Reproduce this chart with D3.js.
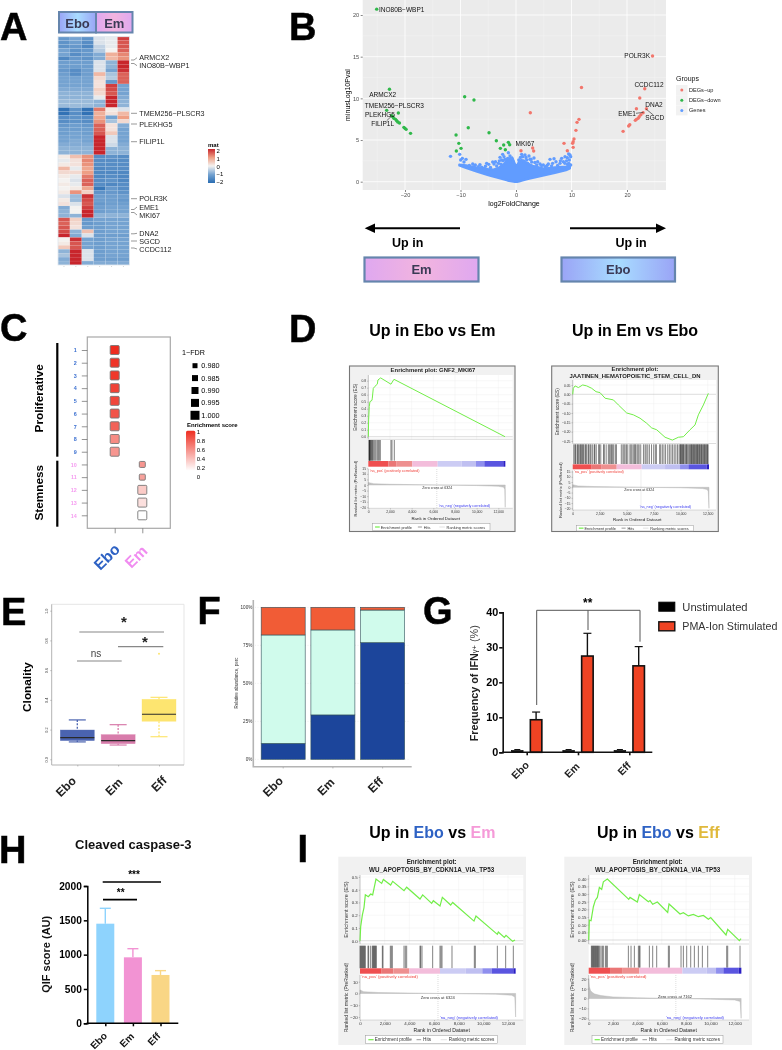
<!DOCTYPE html>
<html><head><meta charset="utf-8">
<script src="https://cdn.jsdelivr.net/npm/d3@7"></script>
<style>
html,body{margin:0;padding:0;background:#fff}
svg{display:block;filter:blur(0.45px)}
text{font-family:"Liberation Sans",Arial,sans-serif}
</style></head><body>
<script>
// ---------- DATA ----------
const heatColumns=['Ebo1','Ebo2','Ebo3','Em1','Em2','Em3'];
const heatValues=[
[-1.2,-1,-1.3,-.2,-.1,1.8],[-1.3,-1.1,-1.4,-.2,-.1,1.6],[-1.3,-1.2,-1.5,-.4,-.1,1.6],[-1,-1.3,-1.2,-.5,0,1.5],
[-1,-1.4,-1.2,-.9,.8,1.2],[-1.5,-1.2,-1.3,-.9,.7,1.1],[-1.1,-1.1,-1.1,-.2,-.8,2],[-1.1,-1.1,-1.1,-.2,-.8,2],
[-1.2,-1.4,-1.1,-.2,-1,1.9],[-1.1,-1.4,-1.1,.7,-.6,1.5],[-1,-1,-1,.3,-.5,1.5],[-1,-1,-1,.2,-1.2,1.5],
[-1,-1,-1,.2,1.8,-1],[-.9,-.9,-.9,.4,1.7,-1],[-.8,-.8,-.8,.3,1.6,-1],[-.8,-.8,-.8,-.1,2,-.9],[-.7,-.7,-.7,-.8,2,-.8],[-.7,-.7,-.7,-.8,2,-.8],
[-1.9,-1.3,-1.9,1.3,.1,-.2],[-1.9,-1.4,-1.9,.8,.2,.7],[-1.4,-1.3,-1.4,.9,-1,1],[-1.4,-1.3,-1.4,1.1,-.6,.3],
[-1.2,-1.1,-1.2,1.5,.2,-.9],[-1.1,-1.1,-1.1,1.5,.2,-1],[-1.1,-1,-1.1,1.6,.5,-1],[-1,-1,-1,2,-.2,-1],
[-1,-.9,-1,2,-.2,-1],[-.9,-.9,-.9,2,-.3,-.9],[-.8,-.8,-.8,2,-.8,-.8],[-.8,-.8,-.8,2,-.8,-.8],
[.1,.6,1.1,-1.4,-1.3,-1.4],[-.1,.2,1.2,-1.4,-1.4,-1.4],[.1,.2,1.1,-1.4,-1.4,-1.4],[.7,-.1,.9,-1.5,-1.4,-1.4],
[.3,.3,1,-1.5,-1.5,-1.5],[.1,-.1,1.3,-1.5,-1.4,-1.5],[0,-.2,1.5,-1.4,-1.3,-1.5],[.1,-.1,1.5,-1.4,-1.5,-1.4],[0,.1,.9,-1.8,-1.2,-1.4],[.1,1.1,.4,-1.3,-1.2,-1.3],
[-.2,-.7,1.9,-1.1,-1.1,-1.1],[.1,-.7,1.7,-1.1,-1.1,-1.2],[.2,-.2,1.6,-1.2,-1.1,-1.1],[-.9,0,1.8,-1.1,-1,-1],[-.8,0,2,-1.1,-1,-1],[-.8,-.8,2,-.8,-.8,-.8],
[1.6,.4,-1.2,-1,-1,-1],[1.5,.3,-1.2,-1.1,-1,-1],[1.6,.2,-1.1,-1.1,-1,-1],[1.7,-.8,.6,-1.1,-1,-1],[2,-.9,-.2,-1.1,-1.1,-1.1],
[0,1.9,-1,-1.1,-1,-1],[.1,1.6,-1,-1.1,-1,-1],[.5,1.6,-1,-1.1,-1,-1],[-.8,2,-.2,-1.1,-1,-1],[-.6,2,-.2,-1.1,-1,-1],[-.9,2,-.2,-1.1,-1.1,-1.1],[-.8,2,-.9,-.9,-.9,-.9]];
const heatGeneLabels=['ARMCX2','INO80B−WBP1','TMEM256−PLSCR3','PLEKHG5','FILIP1L','POLR3K','EME1','MKI67','DNA2','SGCD','CCDC112'];
const heatLegendTicks=[2,1,0,-1,-2];

const volcanoDown=[[-25.1,20.7],[-22.8,11.1],[-23.3,8.56],[-21.2,8.24],[-9.25,10.2],[-7.57,9.8],[-8.6,6.48],[-10.8,5.6],[-4.86,5.88],[-3.54,4.92],[-10.3,4.6],[-9.9,4],[-10.75,3.68],[-1.38,4.72],[-1.14,4.44],[-2.22,4.4],[-2.82,4],[-1.92,3.84],[-22.4,7.92],[-22.2,7.8],[-22,7.6],[-21.7,7.48],[-21.5,7.32],[-21.3,7.16],[-21,7.04],[-20.2,6.52],[-20,6.4],[-19.8,6.28],[-19,5.8]];
const volcanoUp=[[24.6,15.08],[11.8,11.3],[23.2,11.16],[22.3,10.04],[2.58,8.28],[11.35,7.48],[11,7.12],[10.8,6.16],[21.7,8.76],[23.5,8.76],[22.9,8.28],[22.5,8.04],[22.2,7.8],[22,7.6],[21.7,7.48],[21.5,7.36],[20.5,6.84],[20.3,6.68],[19.3,6.04],[10.45,5.12],[10.3,4.8],[10.2,4.6],[10.3,4.12],[8.65,4.6],[9.25,3.72],[3,4.04],[3.18,3.68],[.9,3.72]];
const volcanoGenes=[[-11.8,3.04],[-10.15,3.28],[-9.67,2.8],[-9,2.68],[-9.97,2.6],[-9.37,2.36],[-7.8,2.12],[-7.33,2],[-7.57,1.8],[-6.79,1.8],[-5.77,1.6],[-5.29,2.2],[-4.92,2.08],[-4.2,2.36],[-3.96,2.12],[-3.48,1.88],[-2.88,2.92],[-2.58,2.6],[-2.4,3.28],[-2.16,3],[-1.98,2.68],[-1.68,2.4],[-3.18,2.2],[-1.38,3.48],[-1.08,3.08],[-.78,2.8],[1.02,3.28],[1.2,3],[1.62,3.2],[1.92,2.6],[2.34,3.08],[2.52,2.68],[2.82,2.36],[3.24,2.84],[3.72,2],[4.32,2.12],[4.92,2],[5.83,2.12],[6.13,2.68],[6.85,2.76],[7.21,2.4],[7.93,2.2],[8.23,2.8],[8.83,3],[9.25,2.88],[9.49,3.32],[9.73,3.2],[9.85,3],[9.61,2.6],[9.85,2],[8.53,2.4],
[-8.4,1.95],[-6.2,1.75],[-6.5,2.05],[-5.5,1.85],[-4.6,1.7],[-3.7,2.4],[-3,2.5],[-2.7,2.1],[-2.3,2.5],[-1.9,2.2],[-1.5,2.8],[-1.2,2.5],[-.9,2.4],[-.5,2.4],[.5,2.6],[.8,2.9],[1.4,2.5],[1.8,2.9],[2.1,2.2],[2.7,2.7],[3.4,2.3],[3.9,2.4],[4.6,1.95],[5.3,1.8],[5.6,1.95],[6.4,1.9],[6.6,2.2],[7.5,1.95],[8,2.5],[8.8,2.2],[9.1,2.5],[9.3,2.1],[9.5,2.2]];
const genesEnvX=[-10.2,-9,-7,-6,-5,-4,-3,-2,-1.5,-.7,-.2,.2,.6,1,2,3,5,7,9,9.7];
const genesEnvLow=[1.95,1.65,1.2,1.0,.8,.6,.42,.25,.15,.05,0,0,.05,.12,.3,.45,.75,1.05,1.4,1.6];
const genesEnvHigh=[2.05,1.95,1.65,1.6,1.5,1.45,1.7,2.2,2.7,2.9,2.1,1.9,2.5,2.6,2.2,1.9,1.55,1.7,1.8,1.9];
const volcanoXTicks=[-20,-10,0,10,20];
const volcanoYTicks=[0,5,10,15,20];
const volcanoGroups=['DEGs−up','DEGs−down','Genes'];

const pathwayRows=[1,2,3,4,5,6,7,8,9,10,11,12,13,14];
const pathwayGroup=['Ebo','Ebo','Ebo','Ebo','Ebo','Ebo','Ebo','Ebo','Ebo','Em','Em','Em','Em','Em'];
const pathwayScore=[1,.97,.95,.9,.88,.82,.75,.55,.5,.5,.45,.25,.15,0];
const pathwayFdr=[1,1,1,1,1,1,1,1,1,.985,.985,1,1,1];
const fdrLegend=[.98,.985,.99,.995,1];
const scoreLegend=[1,.8,.6,.4,.2,0];

const gseaMki67Es=[[0,0],[30,.24],[90,.43],[150,.5],[340,.52],[370,.55],[460,.69],[615,.72],[830,.75],[890,.81],[1140,.84],[2090,.75],[2370,.82],[12620,0]];
const gseaMki67Hits=[60,90,120,150,185,245,310,370,430,520,615,710,830,925,1015,1110,2090,2185,2400];
const gseaMki67Seg=[0,1846,2615,4060,6400,8615,9938,10708,12460,12650];
const gseaMki67Rank=[[0,2.2],[500,1.2],[2000,.7],[6324,0],[10000,-.5],[12000,-1.2],[12500,-2],[12600,-4],[12640,-20]];

const gseaStemEs=[[0,0],[60,.032],[216,.045],[525,.036],[926,.05],[1296,.045],[1760,.032],[2160,.014],[2530,.009],[3000,-.021],[3765,-.03],[4230,-.057],[5000,-.1],[5617,-.11],[6235,-.128],[6850,-.155],[7315,-.18],[7780,-.19],[8550,-.23],[9230,-.245],[9784,-.23],[10250,-.227],[10864,-.19],[11327,-.164],[11636,-.11],[12100,-.057],[12560,.005]];
const gseaStemHits=[100,200,260,400,470,520,650,720,800,880,950,1020,1150,1210,1300,1440,1500,1620,1700,1850,2000,2050,2180,2400,2480,2600,2850,2930,3100,3300,3400,3520,3600,3700,3800,3950,4050,4500,4650,4750,4850,4980,5100,5300,5400,5500,5650,5750,5800,5950,6050,6150,6300,6550,6700,6800,6950,7100,7300,7500,7650,7750,8050,8150,8300,8450,8600,8800,8950,9100,9250,9400,9550,9700,9850,9950,10000,10050,10120,10180,10250,10300,10400,10480,10550,10600,10700,10800,10880,10950,11000,11080,11150,11200,11280,11350,11420,11480,11550,11600,11680,11730,11800,11880,11920,12000,12080,12150,12200,12280,12350,12420,12480,12540];
const gseaStemSeg=[0,1760,2685,4074,6388,8550,9938,10710,12407,12620];
const gseaStemRank=[[0,2.5],[500,1.3],[2000,.7],[6324,0],[10000,-.5],[12000,-1.2],[12450,-2],[12550,-4],[12620,-20]];

const gseaApo1Es=[[0,0],[54,.11],[190,.2],[324,.26],[432,.36],[675,.345],[865,.366],[1027,.36],[1297,.484],[1757,.45],[1892,.48],[2486,.437],[2650,.466],[3568,.393],[3784,.42],[4865,.327],[5080,.36],[5811,.293],[5946,.314],[6486,.272],[6676,.34],[7351,.28],[7514,.3],[9243,.154],[9405,.194],[11135,.05],[11216,.068],[11703,.026],[11838,.042],[12378,-.005],[12568,.005]];
const gseaApo1Hits=[0,54,108,162,216,270,324,378,432,648,703,865,1000,1054,1108,1162,1216,1270,1324,1811,1865,2459,2541,2622,3568,3676,3784,4865,4919,5027,5892,6486,6568,6649,7459,9270,9351,11135,11811,12432];
const gseaApo1Seg=[0,1757,2703,4000,6486,8568,9919,10676,12432,12620];
const gseaApo1Rank=[[0,3],[300,1.5],[1500,.8],[6324,0],[11000,-.7],[12300,-1.5],[12550,-3],[12620,-20]];

const gseaApo2Es=[[0,0],[55,.13],[192,.126],[384,.217],[548,.26],[712,.278],[877,.343],[1068,.33],[1205,.38],[1534,.398],[3123,.278],[3288,.265],[3397,.278],[4000,.248],[4164,.296],[4904,.25],[5041,.257],[5260,.233],[5644,.248],[6493,.18],[6603,.235],[7507,.17],[7781,.178],[8192,.157],[8603,.167],[9014,.152],[9425,.16],[9836,.135],[10027,.146],[11288,.033],[11425,.07],[12384,-.004],[12520,.009]];
const gseaApo2Hits=[219,274,329,384,438,493,548,603,658,712,767,822,904,1014,1123,1205,1370,1452,1534,3260,3479,3753,4082,4164,4219,4986,5260,5589,6548,6630,7589,7781,8055,8384,8685,9014,9342,9781,11342,11425,12438];
const gseaApo2Seg=[0,1753,2795,4164,7699,9699,10466,11068,12329,12548];
const gseaApo2Rank=[[0,20],[50,12],[150,8],[300,6],[500,4.5],[1000,3],[2000,1.6],[4000,.8],[7162,0],[10000,-.7],[12000,-1.5],[12450,-3],[12530,-20]];

const cloneGroups=['Ebo','Em','Eff'];
const cloneLow=[.117,.096,.152];
const cloneQ1=[.126,.105,.256];
const cloneMedian=[.146,.126,.303];
const cloneQ3=[.197,.166,.404];
const cloneHigh=[.265,.233,.417];
const cloneOutliers=[[2,.711]];
const cloneTicks=[0,.2,.4,.6,.8,1];

const abundanceGroups=['Ebo','Em','Eff'];
const abundanceBlue=[10.5,29.2,76.8];
const abundanceMint=[71.3,55.9,21.4];
const abundanceOrange=[18.2,14.9,1.8];

const ifnGroups=['Ebo','Em','Eff'];
const ifnUnstim=[.5,.5,.5];
const ifnUnstimErr=[.3,.3,.3];
const ifnStim=[9.3,27.5,24.7];
const ifnStimErr=[2.2,6.5,5.5];
const ifnTicks=[0,10,20,30,40];

const caspGroups=['Ebo','Em','Eff'];
const caspMean=[1451,961,704];
const caspErr=[224,126,63];
const caspTicks=[0,500,1000,1500,2000];

// ---------- HELPERS ----------
const svg=d3.select('body').append('svg').attr('width',782).attr('height',1050).attr('viewBox','0 0 782 1050');
const defs=svg.append('defs');
function T(g,x,y,s,o={}){
  const t=g.append('text').attr('x',x).attr('y',y).text(s)
    .attr('font-size',o.size||8).attr('fill',o.fill||'#000');
  if(o.weight)t.attr('font-weight',o.weight);
  if(o.anchor)t.attr('text-anchor',o.anchor);
  if(o.mid)t.attr('dominant-baseline','central');
  if(o.rot!==undefined)t.attr('transform',`rotate(${o.rot} ${x} ${y})`);
  return t;
}
function grad(id,stops,x2=1,y2=0){
  const g=defs.append('linearGradient').attr('id',id).attr('x1',0).attr('y1',0).attr('x2',x2).attr('y2',y2);
  stops.forEach(([o,c])=>g.append('stop').attr('offset',o).attr('stop-color',c));
}
function styleAxis(g,o={}){
  g.selectAll('path').attr('stroke',o.line||'#000').attr('stroke-width',o.sw||1);
  g.selectAll('line').attr('stroke',o.line||'#000').attr('stroke-width',o.tw||o.sw||1);
  g.selectAll('text').attr('font-size',o.size||8).attr('fill',o.fill||'#000').attr('font-family','"Liberation Sans",Arial,sans-serif');
  if(o.weight)g.selectAll('text').attr('font-weight',o.weight);
  if(o.noDomain)g.select('.domain').remove();
  if(o.noTicks)g.selectAll('.tick line').remove();
}
const letters=[['A',0,40],['B',289,40],['C',0,341],['D',289,342],['E',1,625],['F',197.5,624],['G',423,624],['H',-1,863],['I',297.5,862]];
letters.forEach(([l,x,y])=>T(svg,x,y,l,{size:38,weight:'bold'}).attr('stroke','#000').attr('stroke-width',.5));
grad('gEbo',[[0,'#9aa4f6'],[.5,'#a8dcff'],[1,'#9aa4f6']]);
grad('gEm',[[0,'#dfa8f0'],[.5,'#f2b4df'],[1,'#dfa8f0']]);
function tagBox(g,x0,x1,y0,y1,s,fs,by,sw){
  g.append('rect').attr('x',x0).attr('y',y0).attr('width',x1-x0).attr('height',y1-y0)
   .attr('fill',s==='Ebo'?'url(#gEbo)':'url(#gEm)').attr('stroke','#6585ad').attr('stroke-width',sw);
  T(g,(x0+x1)/2,by,s,{size:fs,weight:'bold',anchor:'middle',fill:'#3a3a55'});
}

// ---------- A : heat map ----------
{
  const g=svg.append('g');
  const hColors=['#2a6db2','#75a3d1','#f4f2f0','#ee9f85','#c8252c'];
  const color=d3.scaleLinear().domain([-2,-1,0,1,2]).range(hColors);
  const xb=d3.scaleBand().domain(heatColumns).range([58,129.4]);
  const yb=d3.scaleBand().domain(d3.range(heatValues.length)).range([36.7,265]);
  heatValues.forEach((row,r)=>row.forEach((v,c)=>{
    g.append('rect').attr('x',xb(heatColumns[c])).attr('y',yb(r)).attr('width',xb.bandwidth()).attr('height',yb.bandwidth())
     .attr('fill',color(v)).attr('stroke','#fff').attr('stroke-opacity',.15).attr('stroke-width',.4);
  }));
  g.append('rect').attr('x',58).attr('y',36.7).attr('width',71.4).attr('height',228.3).attr('fill','none').attr('stroke','#dfe6ee').attr('stroke-width',.8);
  heatColumns.forEach(c=>g.append('line').attr('x1',xb(c)+xb.bandwidth()/2).attr('x2',xb(c)+xb.bandwidth()/2).attr('y1',266).attr('y2',267).attr('stroke','#bbb').attr('stroke-width',.6));
  tagBox(g,59,96,12,32.5,'Ebo',13,28,2);
  tagBox(g,96,132.5,12,32.5,'Em',13,28,2);
  const labelY=[57.7,65.7,113.3,124,141.7,198.7,207,215,233.3,241,249];
  const startY=[60,63.5,113.3,124,141.7,198.7,209.5,212.5,233.8,241,248];
  heatGeneLabels.forEach((s,i)=>{
    T(g,139.3,labelY[i],s,{size:7.2,mid:true,fill:'#222'});
    g.append('polyline').attr('points',`131,${startY[i]} 134,${startY[i]} 137,${labelY[i]}`).attr('fill','none').attr('stroke','#555').attr('stroke-width',.6);
  });
  T(g,208,147,'mat',{size:6,weight:'bold'});
  grad('gMat',[[0,hColors[4]],[.25,hColors[3]],[.5,hColors[2]],[.75,hColors[1]],[1,hColors[0]]],0,1);
  g.append('rect').attr('x',208).attr('y',149).attr('width',7).attr('height',34).attr('fill','url(#gMat)');
  const ly=d3.scaleLinear().domain([2,-2]).range([151,182]);
  heatLegendTicks.forEach(v=>T(g,216.5,ly(v),String(v).replace('-','−'),{size:6,mid:true}));
}

// ---------- B : volcano ----------
{
  const g=svg.append('g');
  const x=d3.scaleLinear().domain([-20,20]).range([405,627]);
  const y=d3.scaleLinear().domain([0,20]).range([181.7,15]);
  const L=362.7,R=666,Tp=0,B=190;
  g.append('rect').attr('x',L).attr('y',Tp).attr('width',R-L).attr('height',B-Tp).attr('fill','#ebebeb');
  [-25,-15,-5,5,15,25].forEach(v=>g.append('line').attr('x1',x(v)).attr('x2',x(v)).attr('y1',Tp).attr('y2',B).attr('stroke','#f6f6f6').attr('stroke-width',.4));
  [2.5,7.5,12.5,17.5].forEach(v=>g.append('line').attr('x1',L).attr('x2',R).attr('y1',y(v)).attr('y2',y(v)).attr('stroke','#f6f6f6').attr('stroke-width',.4));
  volcanoXTicks.forEach(v=>g.append('line').attr('x1',x(v)).attr('x2',x(v)).attr('y1',Tp).attr('y2',B).attr('stroke','#fff').attr('stroke-width',.8));
  volcanoYTicks.forEach(v=>g.append('line').attr('x1',L).attr('x2',R).attr('y1',y(v)).attr('y2',y(v)).attr('stroke','#fff').attr('stroke-width',.8));
  const ax=g.append('g').attr('transform',`translate(0,${B})`).call(d3.axisBottom(x).tickValues(volcanoXTicks).tickSize(2).tickPadding(1.5).tickFormat(d=>String(d).replace('-','−')));
  styleAxis(ax,{size:5.6,fill:'#4d4d4d',line:'#333',sw:.6});ax.select('.domain').remove();
  const ay=g.append('g').attr('transform',`translate(${L},0)`).call(d3.axisLeft(y).tickValues(volcanoYTicks).tickSize(2).tickPadding(1.5));
  styleAxis(ay,{size:5.6,fill:'#4d4d4d',line:'#333',sw:.6});ay.select('.domain').remove();
  T(g,514,206,'log2FoldChange',{size:7,anchor:'middle'});
  T(g,350,95,'minusLog10Pval',{size:7,anchor:'middle',rot:-90});
  const env=genesEnvX.map((v,i)=>[v,genesEnvLow[i],genesEnvHigh[i]]);
  g.append('path').attr('d',d3.area().x(d=>x(d[0])).y0(d=>y(d[1])).y1(d=>y(d[2]))(env)).attr('fill','#619cff').attr('stroke','#619cff').attr('stroke-width',2.4).attr('stroke-linejoin','round');
  const dots=(arr,c)=>arr.forEach(d=>g.append('circle').attr('cx',x(d[0])).attr('cy',y(d[1])).attr('r',1.7).attr('fill',c));
  dots(volcanoGenes,'#619cff');dots(volcanoDown,'#2fb84a');dots(volcanoUp,'#f2766c');
  const ln=(a,b,c,d,col='#222')=>g.append('line').attr('x1',a).attr('y1',b).attr('x2',c).attr('y2',d).attr('stroke',col).attr('stroke-width',.6);
  ln(386.7,120.7,391.7,116);ln(636,113.3,643.5,112.3);ln(646,109,653.3,115);
  [['INO80B−WBP1',379,9,'start'],['POLR3K',650,55.7,'end'],['CCDC112',649,84.7,'middle'],['DNA2',654,104,'middle'],['EME1',627,113.3,'middle'],['SGCD',654.7,117,'middle'],['ARMCX2',382.7,94,'middle'],['TMEM256−PLSCR3',394.3,105.7,'middle'],['PLEKHG5',380,114.7,'middle'],['FILIP1L',382.7,123.7,'middle'],['MKI67',525,143.3,'middle']]
   .forEach(([s,a,b,an])=>T(g,a,b,s,{size:6.5,anchor:an,mid:true,fill:'#111'}));
  T(g,676,81,'Groups',{size:7,fill:'#111'});
  const keyC=['#f2766c','#2fb84a','#619cff'];
  volcanoGroups.forEach((s,i)=>{
    const ky=90+i*10.2;
    g.append('rect').attr('x',676).attr('y',ky-5).attr('width',11.5).attr('height',10).attr('fill','#f2f2f2');
    g.append('circle').attr('cx',681.8).attr('cy',ky).attr('r',1.5).attr('fill',keyC[i]);
    T(g,689,ky,s,{size:5.6,mid:true,fill:'#222'});
  });
  // arrows and tags
  g.append('line').attr('x1',460).attr('x2',372).attr('y1',228.3).attr('y2',228.3).attr('stroke','#000').attr('stroke-width',2);
  g.append('path').attr('d','M364.7,228.3L375,223.6L375,233Z');
  g.append('line').attr('x1',570).attr('x2',658).attr('y1',228.3).attr('y2',228.3).attr('stroke','#000').attr('stroke-width',2);
  g.append('path').attr('d','M666,228.3L656,223.6L656,233Z');
  T(g,407.7,247,'Up in',{size:12.5,weight:'bold',anchor:'middle'});
  T(g,631,247,'Up in',{size:12.5,weight:'bold',anchor:'middle'});
  tagBox(g,364.5,478.5,257.5,281.5,'Em',13,273.5,2.2);
  tagBox(g,561.5,675,257.5,281.5,'Ebo',13,273.5,2.2);
}

// ---------- C : dot matrix ----------
{
  const g=svg.append('g');
  const y=d3.scalePoint().domain(pathwayRows).range([350,515.3]);
  const x=d3.scalePoint().domain(['Ebo','Em']).range([114.7,142.3]);
  const fill=d3.scaleLinear().domain([0,1]).range(['#ffffff','#ee2d20']);
  const size=d3.scaleLinear().domain([.98,1]).range([5,9]);
  g.append('rect').attr('x',87.3).attr('y',337).attr('width',83).attr('height',191.3).attr('fill','none').attr('stroke','#a8a8a8').attr('stroke-width',1.2);
  const ay=g.append('g').attr('transform','translate(87.3,0)').call(d3.axisLeft(y).tickSize(5.5).tickPadding(5));
  styleAxis(ay,{size:5.4,weight:'bold',line:'#666',sw:.7,fill:'#3a6fd0'});ay.select('.domain').remove();
  ay.selectAll('text').attr('fill',d=>d<=9?'#3a6fd0':'#f59af0');
  const ax=g.append('g').attr('transform','translate(0,528.3)').call(d3.axisBottom(x).tickSize(5).tickFormat(''));
  styleAxis(ax,{line:'#666',sw:.7});ax.select('.domain').remove();
  pathwayRows.forEach((r,i)=>{
    const s=size(pathwayFdr[i]);
    g.append('rect').attr('x',x(pathwayGroup[i])-s/2).attr('y',y(r)-s/2).attr('width',s).attr('height',s).attr('rx',1)
     .attr('fill',fill(pathwayScore[i])).attr('stroke','#777').attr('stroke-width',.9);
  });
  g.append('rect').attr('x',56.2).attr('y',343).attr('width',2.2).attr('height',113.7);
  g.append('rect').attr('x',56.2).attr('y',460.7).attr('width',2.2).attr('height',66);
  T(g,39,398.3,'Proliferative',{size:11.8,weight:'bold',anchor:'middle',mid:true,rot:-90});
  T(g,39,492.7,'Stemness',{size:11.8,weight:'bold',anchor:'middle',mid:true,rot:-90});
  T(g,106.7,556.7,'Ebo',{size:15.5,weight:'bold',anchor:'middle',mid:true,rot:-45,fill:'#2e62c4'});
  T(g,136,556.7,'Em',{size:15.5,weight:'bold',anchor:'middle',mid:true,rot:-45,fill:'#f08cf0'});
  T(g,182,352.7,'1−FDR',{size:7.2,mid:true});
  fdrLegend.forEach((v,i)=>{
    const yy=365.7+i*12.4,s=size(v);
    g.append('rect').attr('x',195-s/2).attr('y',yy-s/2).attr('width',s).attr('height',s);
    T(g,201.3,yy,d3.format('.3f')(v),{size:7.3,mid:true});
  });
  T(g,187,427,'Enrichment score',{size:6,weight:'bold'});
  grad('gScore',[[0,'#ee2d20'],[1,'#ffffff']],0,1);
  g.append('rect').attr('x',186).attr('y',430.7).attr('width',9.3).attr('height',40).attr('rx',1.5).attr('fill','url(#gScore)');
  const ly=d3.scaleLinear().domain([1,0]).range([431.7,476.7]);
  scoreLegend.forEach(v=>T(g,196.7,ly(v),String(v),{size:6,mid:true}));
}

// ---------- GSEA plots ----------
const segColors=['#ef4f50','#ea7676','#ee9090','#f3bddb','#ccccf4','#bfbff1','#8f8fee','#5a55e0','#2a1fc4'];
function gsea(c){
  const g=svg.append('g');
  g.append('rect').attr('x',c.box[0]).attr('y',c.box[1]).attr('width',c.box[2]-c.box[0]).attr('height',c.box[3]-c.box[1])
    .attr('fill','#f1f1f1').attr('stroke',c.border||'none').attr('stroke-width',1.1);
  const x=d3.scaleLinear().domain(c.xDom).range(c.xRng);
  const L=c.xRng[0],R=c.right,[eT,eB]=c.esBand,[hT,hB]=c.hitBand,[bT,bB]=c.barBand,[rT,rB]=c.rankBand;
  g.append('rect').attr('x',L).attr('y',eT).attr('width',R-L).attr('height',rB-eT).attr('fill','#fff');
  c.title.forEach((s,i)=>T(g,c.titleX,c.titleY[i],s,{size:c.titleSize,weight:'bold',anchor:'middle',fill:'#222',mid:true}));
  const fs=c.tickSize;
  const es=d3.scaleLinear().domain(c.esDom).range(c.esRng);
  c.xTicks.forEach(v=>g.append('line').attr('x1',x(v)).attr('x2',x(v)).attr('y1',eT).attr('y2',eB).attr('stroke','#eee').attr('stroke-width',.4));
  c.esTicks.forEach(v=>g.append('line').attr('x1',L).attr('x2',R).attr('y1',es(v)).attr('y2',es(v)).attr('stroke',v===0?'#bbb':'#eee').attr('stroke-width',v===0?.5:.4));
  const ae=g.append('g').attr('transform',`translate(${L},0)`).call(d3.axisLeft(es).tickValues(c.esTicks).tickSize(1.2).tickPadding(1).tickFormat(d3.format(c.esFmt)));
  styleAxis(ae,{size:fs,fill:'#333',line:'#777',sw:.4});ae.select('.domain').attr('d',`M0,${eT}V${eB}`);
  T(g,c.yTitleX,(eT+eB)/2,'Enrichment score (ES)',{size:c.esTitle,anchor:'middle',fill:'#333',rot:-90,mid:true});
  g.append('path').datum(c.es).attr('d',d3.line().x(d=>x(d[0])).y(d=>es(d[1]))).attr('fill','none').attr('stroke','#72ee48').attr('stroke-width',c.lineW||1.2);
  g.append('line').attr('x1',L).attr('x2',R).attr('y1',eB).attr('y2',eB).attr('stroke','#aaa').attr('stroke-width',.4);
  c.hits.forEach(v=>g.append('line').attr('x1',x(v)).attr('x2',x(v)).attr('y1',hT).attr('y2',hB).attr('stroke','#000').attr('stroke-opacity',.55).attr('stroke-width',.9));
  c.seg.slice(0,-1).forEach((v,i)=>g.append('rect').attr('x',x(v)).attr('y',bT).attr('width',x(c.seg[i+1])-x(v)).attr('height',bB-bT).attr('fill',segColors[i]));
  const rk=d3.scaleLinear().domain(c.rankDom).range(c.rankRng);
  g.append('line').attr('x1',x(c.zero)).attr('x2',x(c.zero)).attr('y1',rT).attr('y2',rB).attr('stroke','#aaa').attr('stroke-width',.4).attr('stroke-dasharray','1 1');
  g.append('line').attr('x1',L).attr('x2',R).attr('y1',rB).attr('y2',rB).attr('stroke','#aaa').attr('stroke-width',.4);
  g.append('path').datum(c.rank).attr('d',d3.area().x(d=>x(d[0])).y0(rk(0)).y1(d=>rk(d[1]))).attr('fill','#c4c4c4').attr('stroke','#b0b0b0').attr('stroke-width',.4);
  const ar=g.append('g').attr('transform',`translate(${L},0)`).call(d3.axisLeft(rk).tickValues(c.rankTicks).tickSize(1.2).tickPadding(1).tickFormat(d=>String(d).replace('-','−')));
  styleAxis(ar,{size:fs,fill:'#333',line:'#777',sw:.4});ar.select('.domain').attr('d',`M0,${rT}V${rB}`);
  T(g,c.yTitleX+(c.rankTitleDx||0),(rT+rB)/2,'Ranked list metric (PreRanked)',{size:c.rankTitle,anchor:'middle',fill:'#333',rot:-90,mid:true});
  const ax=g.append('g').attr('transform',`translate(0,${rB})`).call(d3.axisBottom(x).tickValues(c.xTicks).tickSize(1.2).tickPadding(1).tickFormat(d3.format(',')));
  styleAxis(ax,{size:fs,fill:'#333',line:'#777',sw:.4});ax.select('.domain').remove();
  T(g,c.xTitle[0],c.xTitle[1],'Rank in Ordered Dataset',{size:c.xTitleSize,anchor:'middle',fill:'#222',mid:true});
  T(g,x(0)+1.5,rT+1.8,"'na_pos' (positively correlated)",{size:c.note,fill:'#f0403a',mid:true});
  T(g,c.negRight,rB-2.6,"'na_neg' (negatively correlated)",{size:c.note,fill:'#3a3af0',anchor:'end',mid:true});
  T(g,c.zeroLabel[0],c.zeroLabel[1],'Zero cross at '+c.zero,{size:c.note-.1,fill:'#333',anchor:'middle',mid:true});
  const [lx0,ly0,lx1,ly1]=c.legend;
  g.append('rect').attr('x',lx0).attr('y',ly0).attr('width',lx1-lx0).attr('height',ly1-ly0).attr('fill','#fff').attr('stroke','#999').attr('stroke-width',.5);
  const w=lx1-lx0,m=(ly0+ly1)/2;
  g.append('line').attr('x1',lx0+w*.02).attr('x2',lx0+w*.06).attr('y1',m).attr('y2',m).attr('stroke','#72ee48').attr('stroke-width',1.2);
  T(g,lx0+w*.068,m,'Enrichment profile',{size:c.legSize,mid:true,fill:'#333'});
  g.append('line').attr('x1',lx0+w*.385).attr('x2',lx0+w*.42).attr('y1',m).attr('y2',m).attr('stroke','#555').attr('stroke-width',.6);
  T(g,lx0+w*.435,m,'Hits',{size:c.legSize,mid:true,fill:'#333'});
  g.append('line').attr('x1',lx0+w*.568).attr('x2',lx0+w*.615).attr('y1',m).attr('y2',m).attr('stroke','#ccc').attr('stroke-width',.6);
  T(g,lx0+w*.63,m,'Ranking metric scores',{size:c.legSize,mid:true,fill:'#333'});
}
T(svg,432.3,336,'Up in Ebo vs Em',{size:16,weight:'bold',anchor:'middle'});
T(svg,635,336,'Up in Em vs Ebo',{size:16,weight:'bold',anchor:'middle'});
const dFonts={tickSize:3.4,esTitle:4.7,rankTitle:4,xTitleSize:4.4,note:3.7,legSize:3.9};
const iFonts={tickSize:4.4,esTitle:5.6,rankTitle:5,xTitleSize:5.1,note:4.2,legSize:4.6};
gsea({...dFonts,box:[349.5,366,515,531.5],border:'#777',title:['Enrichment plot: GNF2_MKI67'],titleX:433,titleY:[370.3],titleSize:5.9,
 xDom:[0,12000],xRng:[368.3,498.3],right:512.7,esBand:[375,439.3],hitBand:[440,460.7],barBand:[461,466.7],rankBand:[469,508.3],
 esDom:[0,.8],esRng:[436.7,380.7],esTicks:[0,.1,.2,.3,.4,.5,.6,.7,.8],esFmt:'.1f',es:gseaMki67Es,hits:gseaMki67Hits,seg:gseaMki67Seg,
 rankDom:[0,-20],rankRng:[485,507.3],rankTicks:[15,10,5,0,-5,-10,-15,-20],rank:gseaMki67Rank,zero:6324,
 xTicks:[0,2000,4000,6000,8000,10000,12000],yTitleX:355.7,xTitle:[435.7,518],negRight:490,zeroLabel:[437.3,488.3],legend:[372.7,523.5,490,530.5],lineW:1});
gsea({...dFonts,box:[551.7,366,718.3,531.5],border:'#777',title:['Enrichment plot:','JAATINEN_HEMATOPOIETIC_STEM_CELL_DN'],titleX:635,titleY:[369,376.3],titleSize:5.9,
 xDom:[0,12500],xRng:[572.7,707.7],right:716,esBand:[380,443.5],hitBand:[444.3,464],barBand:[464.3,469.3],rankBand:[470.5,510],
 esDom:[0,-.25],esRng:[394.3,441],esTicks:[.05,0,-.05,-.1,-.15,-.2,-.25],esFmt:'.2f',es:gseaStemEs,hits:gseaStemHits,seg:gseaStemSeg,
 rankDom:[0,-20],rankRng:[487.3,508.3],rankTicks:[15,10,5,0,-5,-10,-15,-20],rank:gseaStemRank,zero:6324,
 xTicks:[0,2500,5000,7500,10000,12500],yTitleX:557.7,rankTitleDx:3,xTitle:[637.3,519.3],negRight:691,zeroLabel:[639.3,490],legend:[576.5,525.3,693.5,531],lineW:1});

// ---------- E : clonality ----------
{
  const g=svg.append('g');
  const x=d3.scalePoint().domain(cloneGroups).range([77.3,159]);
  const y=d3.scaleLinear().domain([0,1]).range([759.3,610.7]);
  g.append('path').attr('d','M51.7,604.3H184V765').attr('fill','none').attr('stroke','#e2e2e2').attr('stroke-width',.9);
  g.append('path').attr('d','M51.7,604.3V765H184').attr('fill','none').attr('stroke','#aaa').attr('stroke-width',.9);
  const ay=g.append('g').attr('transform','translate(51.7,0)').call(d3.axisLeft(y).tickValues(cloneTicks).tickSize(1.5).tickPadding(3).tickFormat(d3.format('.1f')));
  styleAxis(ay,{size:3.8,fill:'#444',line:'#888',sw:.5});ay.select('.domain').remove();
  ay.selectAll('text').attr('transform',function(){const v=d3.select(this);return `rotate(-90 ${v.attr('x')} 0)`}).attr('text-anchor','middle').attr('dy','0').attr('dominant-baseline','central');
  const ax=g.append('g').attr('transform','translate(0,765)').call(d3.axisBottom(x).tickSize(1.5).tickFormat(''));
  styleAxis(ax,{line:'#888',sw:.5});ax.select('.domain').remove();
  const bc=['#4a63b0','#d87cab','#fde570'],bw=34;
  cloneGroups.forEach((s,i)=>{
    const cx=x(s);
    [[cloneHigh[i],cloneQ3[i]],[cloneQ1[i],cloneLow[i]]].forEach(([a,b])=>g.append('line').attr('x1',cx).attr('x2',cx).attr('y1',y(a)).attr('y2',y(b)).attr('stroke',bc[i]).attr('stroke-width',1.3).attr('stroke-dasharray','2 1.4'));
    [cloneHigh[i],cloneLow[i]].forEach(v=>g.append('line').attr('x1',cx-8.5).attr('x2',cx+8.5).attr('y1',y(v)).attr('y2',y(v)).attr('stroke',bc[i]).attr('stroke-width',1.2));
    g.append('rect').attr('x',cx-bw/2).attr('y',y(cloneQ3[i])).attr('width',bw).attr('height',y(cloneQ1[i])-y(cloneQ3[i])).attr('fill',bc[i]).attr('stroke',bc[i]).attr('stroke-opacity',.6).attr('stroke-width',.6);
    g.append('line').attr('x1',cx-bw/2).attr('x2',cx+bw/2).attr('y1',y(cloneMedian[i])).attr('y2',y(cloneMedian[i])).attr('stroke','#2a2a2a').attr('stroke-width',1.2);
  });
  cloneOutliers.forEach(([i,v])=>g.append('circle').attr('cx',x(cloneGroups[i])).attr('cy',y(v)).attr('r',1).attr('fill',bc[i]));
  const sig=(a,b,yy)=>g.append('line').attr('x1',a).attr('x2',b).attr('y1',yy).attr('y2',yy).attr('stroke','#888').attr('stroke-width',1.2);
  sig(77,121.7,661);sig(118,163.3,646.7);sig(79.3,164,632);
  T(g,96,657,'ns',{size:10,anchor:'middle',fill:'#444'});
  T(g,145,646.5,'*',{size:15,anchor:'middle',weight:'bold',fill:'#222'});
  T(g,124,627,'*',{size:15,anchor:'middle',weight:'bold',fill:'#222'});
  T(g,27,687,'Clonality',{size:11.8,weight:'bold',anchor:'middle',mid:true,rot:-90});
  [[66,786.7],[114,786.7],[159,784]].forEach(([a,b],i)=>T(g,a,b,cloneGroups[i],{size:12,weight:'bold',anchor:'middle',mid:true,rot:-45,fill:'#222'}));
}

// ---------- F : stacked bars ----------
{
  const g=svg.append('g');
  const x=d3.scaleBand().domain(abundanceGroups).range([258.2,407.6]).paddingInner(.115).paddingOuter(.06);
  const y=d3.scaleLinear().domain([0,100]).range([759.3,607.3]);
  [0,25,50,75,100].forEach(v=>g.append('line').attr('x1',255).attr('x2',410).attr('y1',y(v)).attr('y2',y(v)).attr('stroke','#ddd').attr('stroke-width',.5).attr('stroke-dasharray','1 1.5'));
  const rows=abundanceGroups.map((s,i)=>({s,blue:abundanceBlue[i],mint:abundanceMint[i],orange:abundanceOrange[i]}));
  const stack=d3.stack().keys(['blue','mint','orange'])(rows);
  const c={blue:'#1c459b',mint:'#d0fbec',orange:'#f15c36'};
  stack.forEach(layer=>layer.forEach(d=>{
    g.append('rect').attr('x',x(d.data.s)).attr('y',y(d[1])).attr('width',x.bandwidth()).attr('height',y(d[0])-y(d[1]))
     .attr('fill',c[layer.key]).attr('stroke','#30505a').attr('stroke-width',.6);
  }));
  g.append('path').attr('d','M253.3,600V766.7H411.7').attr('fill','none').attr('stroke','#b4b4b4').attr('stroke-width',1.6);
  const ay=g.append('g').attr('transform','translate(253.3,0)').call(d3.axisLeft(y).tickValues([0,25,50,75,100]).tickSize(0).tickPadding(1).tickFormat(d=>d+'%'));
  styleAxis(ay,{size:4.6,fill:'#333',noDomain:true});
  abundanceGroups.forEach(s=>g.append('line').attr('x1',x(s)+x.bandwidth()/2).attr('x2',x(s)+x.bandwidth()/2).attr('y1',767).attr('y2',768.5).attr('stroke','#888').attr('stroke-width',.5));
  T(g,236,683,'Relative abundance, perc',{size:4.5,anchor:'middle',mid:true,rot:-90,fill:'#333'});
  [[273,786.7],[326,786.7],[375.7,785]].forEach(([a,b],i)=>T(g,a,b,abundanceGroups[i],{size:12,weight:'bold',anchor:'middle',mid:true,rot:-45,fill:'#222'}));
}

// ---------- G : IFN gamma ----------
{
  const g=svg.append('g');
  const x=d3.scalePoint().domain(ifnGroups).range([526.7,629.3]);
  const y=d3.scaleLinear().domain([0,40]).range([752.3,612.3]);
  const bw=11.5;
  ifnGroups.forEach((s,i)=>{
    const u=x(s)-9.4,v=x(s)+9.4;
    g.append('line').attr('x1',v).attr('x2',v).attr('y1',y(ifnStim[i])).attr('y2',y(ifnStim[i]+ifnStimErr[i])).attr('stroke','#111').attr('stroke-width',1.4);
    g.append('line').attr('x1',v-4).attr('x2',v+4).attr('y1',y(ifnStim[i]+ifnStimErr[i])).attr('y2',y(ifnStim[i]+ifnStimErr[i])).attr('stroke','#111').attr('stroke-width',1.2);
    g.append('rect').attr('x',v-bw/2).attr('y',y(ifnStim[i])).attr('width',bw).attr('height',y(0)-y(ifnStim[i])).attr('fill','#ef4323').attr('stroke','#111').attr('stroke-width',1.6);
    g.append('rect').attr('x',u-bw/2).attr('y',y(ifnUnstim[i])).attr('width',bw).attr('height',y(0)-y(ifnUnstim[i])).attr('fill','#111').attr('stroke','#111').attr('stroke-width',.8);
    g.append('line').attr('x1',u-3).attr('x2',u+3).attr('y1',y(ifnUnstim[i]+ifnUnstimErr[i])).attr('y2',y(ifnUnstim[i]+ifnUnstimErr[i])).attr('stroke','#111').attr('stroke-width',1);
  });
  const ay=g.append('g').attr('transform','translate(502.7,0)').call(d3.axisLeft(y).tickValues(ifnTicks).tickSize(3.5).tickPadding(1));
  styleAxis(ay,{size:10.8,weight:'bold',line:'#111',sw:1.6});
  const ax=g.append('g').attr('transform','translate(0,752.3)').call(d3.axisBottom(x).tickSize(3).tickFormat(''));
  styleAxis(ax,{line:'#111',sw:1.6});ax.select('.domain').attr('d','M502,0H652.3');
  g.append('path').attr('d','M536.7,705V610.3H640V641.7M588,610.3V630').attr('fill','none').attr('stroke','#555').attr('stroke-width',1);
  T(g,587.7,607,'**',{size:12,weight:'bold',anchor:'middle'});
  const yt=T(g,474,683.3,'',{size:10.8,weight:'bold',anchor:'middle',mid:true,rot:-90,fill:'#222'});
  yt.append('tspan').text('Frequency of IFN');
  yt.append('tspan').text('γ+').attr('font-size',7.5).attr('font-weight','normal');
  yt.append('tspan').text(' (%)').attr('font-weight','normal').attr('fill','#444');
  [[520,770],[571.7,770],[624,768.3]].forEach(([a,b],i)=>T(g,a,b,ifnGroups[i],{size:10.5,weight:'bold',anchor:'middle',mid:true,rot:-45,fill:'#222'}));
  g.append('rect').attr('x',658.8).attr('y',602.2).attr('width',16).attr('height',9).attr('fill','#000').attr('stroke','#000');
  g.append('rect').attr('x',658.8).attr('y',621.8).attr('width',16).attr('height',9).attr('fill','#ef4323').attr('stroke','#111').attr('stroke-width',1.4);
  T(g,682.3,606.7,'Unstimulated',{size:11.2,mid:true,fill:'#333'});
  T(g,682.3,626.3,'PMA-Ion Stimulated',{size:10.7,mid:true,fill:'#333'});
}

// ---------- H : caspase ----------
{
  const g=svg.append('g');
  const x=d3.scalePoint().domain(caspGroups).range([105.3,160.5]);
  const y=d3.scaleLinear().domain([0,2000]).range([1023.3,886]);
  const c=['#8ed3fd','#f293d3','#f9d685'];
  caspGroups.forEach((s,i)=>{
    const cx=x(s);
    g.append('line').attr('x1',cx).attr('x2',cx).attr('y1',y(caspMean[i])).attr('y2',y(caspMean[i]+caspErr[i])).attr('stroke',c[i]).attr('stroke-width',1.4);
    g.append('line').attr('x1',cx-5.5).attr('x2',cx+5.5).attr('y1',y(caspMean[i]+caspErr[i])).attr('y2',y(caspMean[i]+caspErr[i])).attr('stroke',c[i]).attr('stroke-width',1.4);
    g.append('rect').attr('x',cx-9).attr('y',y(caspMean[i])).attr('width',18).attr('height',y(0)-y(caspMean[i])).attr('fill',c[i]);
  });
  const ay=g.append('g').attr('transform','translate(87.3,0)').call(d3.axisLeft(y).tickValues(caspTicks).tickSize(3.5).tickPadding(2).tickFormat(d3.format('d')));
  styleAxis(ay,{size:10.2,weight:'bold',line:'#000',sw:1.5});
  const ax=g.append('g').attr('transform','translate(0,1023.3)').call(d3.axisBottom(x).tickSize(3).tickFormat(''));
  styleAxis(ax,{line:'#000',sw:1.5});ax.select('.domain').attr('d','M86.5,0H178.3');
  T(g,133.3,849.3,'Cleaved caspase-3',{size:13,weight:'bold',anchor:'middle',fill:'#111'});
  T(g,46,954.3,'QIF score (AU)',{size:11,weight:'bold',anchor:'middle',mid:true,rot:-90,fill:'#111'});
  g.append('line').attr('x1',102.7).attr('x2',161).attr('y1',882).attr('y2',882).attr('stroke','#000').attr('stroke-width',1.6);
  g.append('line').attr('x1',103).attr('x2',137).attr('y1',899.7).attr('y2',899.7).attr('stroke','#000').attr('stroke-width',1.8);
  T(g,134,877.5,'***',{size:10,weight:'bold',anchor:'middle'});
  T(g,120.7,896,'**',{size:10,weight:'bold',anchor:'middle'});
  [[98.7,1040.7],[126.7,1040],[154,1039]].forEach(([a,b],i)=>T(g,a,b,caspGroups[i],{size:10,weight:'bold',anchor:'middle',mid:true,rot:-45,fill:'#111'}));
}

// ---------- I : GSEA pair ----------
function colouredTitle(cx,parts){
  const t=T(svg,cx,838.3,'',{size:16,weight:'bold',anchor:'middle'});
  parts.forEach(([s,c])=>t.append('tspan').text(s).attr('fill',c));
}
colouredTitle(432.3,[['Up in ','#000'],['Ebo','#2e62c4'],[' vs ','#000'],['Em','#f59ad8']]);
colouredTitle(658.3,[['Up in ','#000'],['Ebo','#2e62c4'],[' vs ','#000'],['Eff','#e0b93c']]);
gsea({...iFonts,box:[338.3,856.7,526,1045],title:['Enrichment plot:','WU_APOPTOSIS_BY_CDKN1A_VIA_TP53'],titleX:431.7,titleY:[861.5,869.5],titleSize:6.3,
 xDom:[0,12000],xRng:[360,508],right:523.3,esBand:[875,944],hitBand:[945.7,968.3],barBand:[968.3,973.7],rankBand:[975,1020],
 esDom:[0,.5],esRng:[940.7,877],esTicks:[0,.1,.2,.3,.4,.5],esFmt:'.1f',es:gseaApo1Es,hits:gseaApo1Hits,seg:gseaApo1Seg,
 rankDom:[10,-20],rankRng:[981.7,1017],rankTicks:[10,0,-10,-20],rank:gseaApo1Rank,zero:6324,
 xTicks:[0,2000,4000,6000,8000,10000,12000],yTitleX:345.7,xTitle:[441.7,1029.7],negRight:498,zeroLabel:[437.7,997],legend:[365.7,1035.7,497.7,1043.7]});
gsea({...iFonts,box:[564.3,856.7,752,1045],title:['Enrichment plot:','WU_APOPTOSIS_BY_CDKN1A_VIA_TP53'],titleX:657.7,titleY:[861.5,869.5],titleSize:6.3,
 xDom:[0,12000],xRng:[588.7,734.7],right:749,esBand:[875,944],hitBand:[945.7,967.7],barBand:[967.7,973.7],rankBand:[975,1020],
 esDom:[0,.4],esRng:[940,878.7],esTicks:[0,.05,.1,.15,.2,.25,.3,.35,.4],esFmt:'.2f',es:gseaApo2Es,hits:gseaApo2Hits,seg:gseaApo2Seg,
 rankDom:[20,-20],rankRng:[978.7,1018.3],rankTicks:[20,10,0,-10,-20],rank:gseaApo2Rank,zero:7162,
 xTicks:[0,2000,4000,6000,8000,10000,12000],yTitleX:572.3,xTitle:[668.7,1029.7],negRight:724,zeroLabel:[675,996.7],legend:[592,1035.7,723,1043.7]});
</script>
</body></html>
